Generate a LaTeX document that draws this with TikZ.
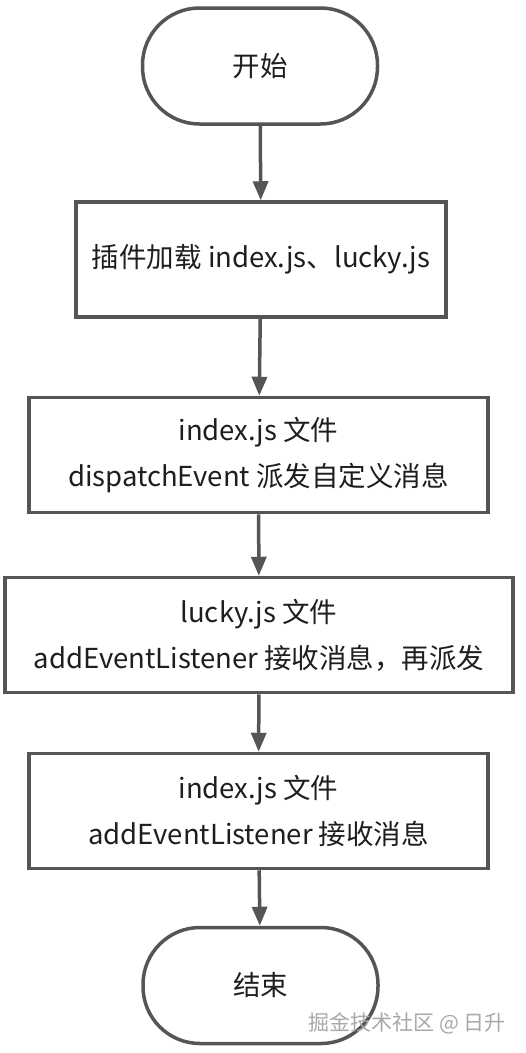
\documentclass[tikz,border=0pt]{standalone}
\usepackage{fontspec}
\setmainfont{Noto Sans CJK SC}
\usetikzlibrary{arrows.meta}

\definecolor{linegray}{HTML}{555555}
\definecolor{textgray}{HTML}{1E1E1E}
\definecolor{markgray}{HTML}{A8A8A8}

\tikzset{
  terminal/.style={draw=linegray,line width=3.5pt,rounded corners=57pt,
    minimum width=235pt,minimum height=116pt,
    font=\fontsize{27.5}{46}\selectfont,text=textgray},
  process/.style={draw=linegray,line width=3.5pt,minimum height=115pt,
    align=center,font=\fontsize{27.5}{46}\selectfont,text=textgray},
  flow/.style={draw=linegray,line width=3.5pt,-{Triangle[width=15pt,length=19pt]}}
}

\begin{document}
\begin{tikzpicture}[x=1pt,y=-1pt]

          \useasboundingbox[fill=white] (0,0) rectangle (526,1053); %画面

          \node[terminal] (start) at (260,66) {开始}; %開始
          \node[process,minimum width=370pt] (load) at (261,259.5) {插件加载 index.js、lucky.js}; %読込
          \node[process,minimum width=459pt] (dispatch) at (258.5,455) {index.js 文件\\dispatchEvent 派发自定义消息}; %派発
          \node[process,minimum width=508pt] (relay) at (259,635) {lucky.js 文件\\addEventListener 接收消息，再派发}; %中継
          \node[process,minimum width=459pt] (receive) at (258.5,811) {index.js 文件\\addEventListener 接收消息}; %受信
          \node[terminal] (finish) at (260.5,985.5) {结束}; %終了

          \draw[flow] (start)--(load);
          \draw[flow] (load)--(dispatch);
          \draw[flow] (dispatch)--(relay);
          \draw[flow] (relay)--(receive);
          \draw[flow] (receive)--(finish);

          \node[text=markgray,font=\fontsize{21}{21}\selectfont] (mark) at (407,1023) {掘金技术社区 @ 日升}; %透かし

        \end{tikzpicture}
\end{document}
